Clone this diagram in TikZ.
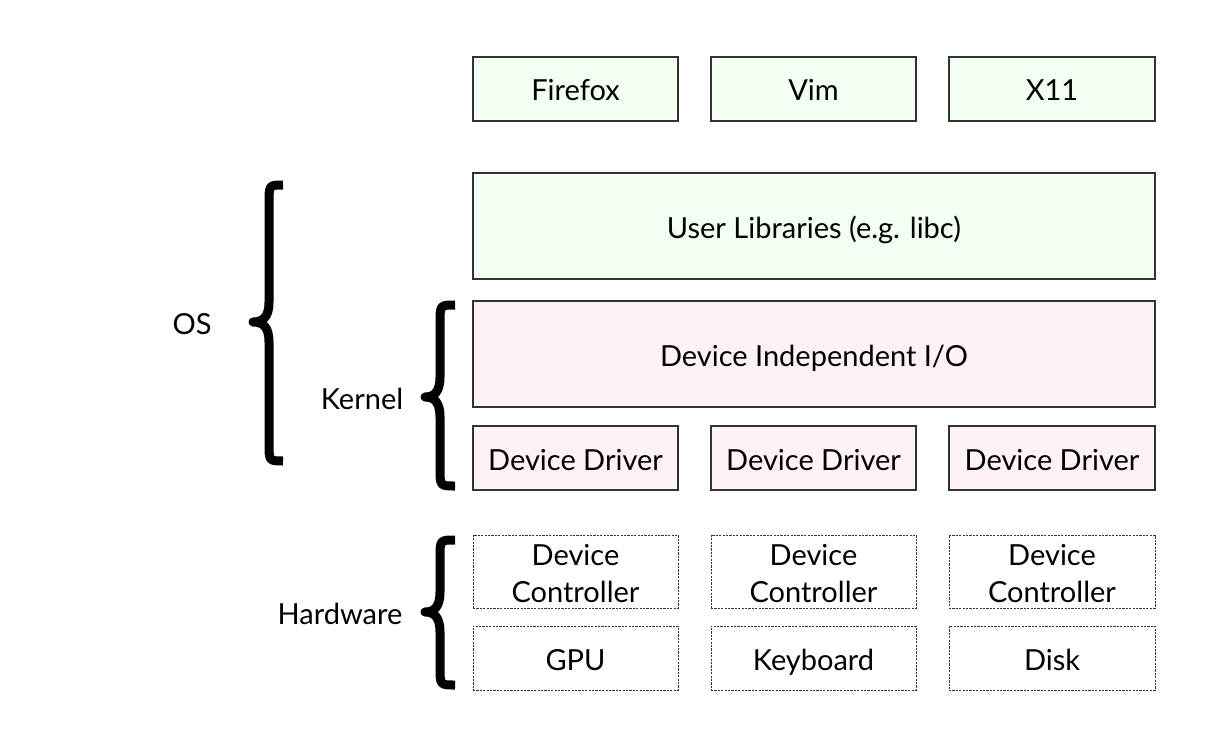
\documentclass[tikz,border=0pt]{standalone}
\usepackage{fontspec}
\setmainfont{Lato}
\newcommand{\st}{\rule[-6pt]{0pt}{36pt}}
\newcommand{\mybrace}[6]{% r c t y0 ym y1
  \draw[brc] (#1,#4) .. controls (#2,#4) and (#2,#4) .. (#2,#4+18) -- (#2,#5-20)
    .. controls (#2,#5-5) and (#2-6,#5) .. (#3,#5)
    .. controls (#2-6,#5) and (#2,#5+5) .. (#2,#5+20) -- (#2,#6-18)
    .. controls (#2,#6) and (#2,#6) .. (#1,#6);}
\begin{document}
\begin{tikzpicture}[x=1pt,y=-1pt,
  box/.style={draw=black!80,line width=1.3pt,inner sep=0pt,font=\fontsize{29}{37}\selectfont,align=center},
  appbox/.style={box,fill=green!5!white},
  kbox/.style={box,fill=red!5!white},
  hwbox/.style={box,line width=1pt,dash pattern=on 2.2pt off 1.2pt,fill=white},
  lbl/.style={font=\fontsize{29}{37}\selectfont,inner sep=0pt},
  brc/.style={line width=9pt,line cap=butt,line join=round}]
\useasboundingbox (0,0) rectangle (1213,749);
\fill[white] (0,0) rectangle (1213,749);
\node[appbox,minimum width=205,minimum height=64] (ff) at (575.5,89) {\st Firefox};
\node[appbox,minimum width=205,minimum height=64] (vim) at (813.5,89) {\st Vim};
\node[appbox,minimum width=206,minimum height=64] (x11) at (1052,89) {\st X11};
\node[appbox,minimum width=682,minimum height=106] (lib) at (814,226) {\st User Libraries (e.g. libc)};
\node[kbox,minimum width=682,minimum height=106] (dio) at (814,354) {\st Device Independent I/O};
\node[kbox,minimum width=205,minimum height=64] (dd1) at (575.5,458) {\st Device Driver};
\node[kbox,minimum width=205,minimum height=64] (dd2) at (813.5,458) {\st Device Driver};
\node[kbox,minimum width=206,minimum height=64] (dd3) at (1052,458) {\st Device Driver};
\node[hwbox,minimum width=205,minimum height=73] (dc1) at (575.5,571.5) {\st Device\\\st Controller};
\node[hwbox,minimum width=205,minimum height=73] (dc2) at (813.5,571.5) {\st Device\\\st Controller};
\node[hwbox,minimum width=206,minimum height=73] (dc3) at (1052,571.5) {\st Device\\\st Controller};
\node[hwbox,minimum width=205,minimum height=64] (gpu) at (575.5,658) {\st GPU};
\node[hwbox,minimum width=205,minimum height=64] (kb) at (813.5,658) {\st Keyboard};
\node[hwbox,minimum width=206,minimum height=64] (disk) at (1052,658) {\st Disk};
% braces
\mybrace{283}{269}{253}{185}{322}{461}
\mybrace{455}{440}{425}{305}{397}{486}
\mybrace{455}{440}{425}{540}{612}{685}
\node[lbl] (os) at (192,322) {\st OS};
\node[lbl] (kern) at (362,397) {\st Kernel};
\node[lbl] (hw) at (340,612) {\st Hardware};
\end{tikzpicture}
\end{document}
